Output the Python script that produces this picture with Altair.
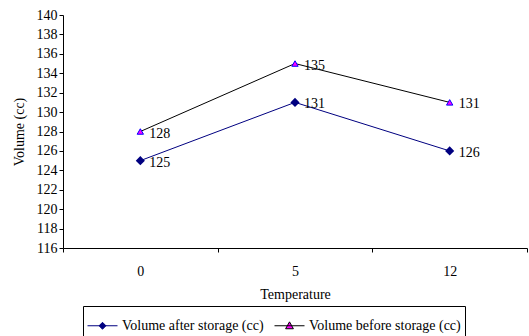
import altair as alt
import pandas as pd

temps = ["0", "5", "12"]
after = [125, 131, 126]
before = [128, 135, 131]
series_names = ["Volume after storage (cc)", "Volume before storage (cc)"]
y_ticks = list(range(116, 141, 2))

rows = []
for t, a, b in zip(temps, after, before):
    rows.append({"temp": t, "series": series_names[0], "value": a})
    rows.append({"temp": t, "series": series_names[1], "value": b})
df = pd.DataFrame(rows)

FONT = "Liberation Serif"
FS = 14

x_enc = alt.X("temp:O", sort=temps, title="Temperature",
              scale=alt.Scale(paddingInner=0, paddingOuter=0),
              axis=alt.Axis(tickBand="extent", labelAngle=0, labelPadding=12,
                            titlePadding=9, tickSize=4))
y_enc = alt.Y("value:Q", title="Volume (cc)",
              scale=alt.Scale(domain=[116, 140], nice=False, zero=False),
              axis=alt.Axis(values=y_ticks, tickSize=4, labelPadding=2,
                            titlePadding=10, grid=False))

base = alt.Chart(df).encode(x=x_enc, y=y_enc)

after_df = base.transform_filter(alt.datum.series == series_names[0])
before_df = base.transform_filter(alt.datum.series == series_names[1])

line_after = after_df.mark_line(color="#000080", strokeWidth=1)
line_before = before_df.mark_line(color="#000000", strokeWidth=1)
pts_after = after_df.mark_point(shape="diamond", filled=True, fill="#000080",
                                stroke="#000080", size=40, opacity=1)
pts_before = before_df.mark_point(shape="triangle-up", filled=True, fill="#ff00ff",
                                  stroke="#0000ff", strokeWidth=1, size=40, opacity=1)
labels = base.mark_text(align="left", baseline="middle", dx=9, dy=2,
                        font=FONT, fontSize=FS, color="black").encode(text="value:Q")

legend_paths = [
    "M-1,0H1M0,-0.23L0.23,0L0,0.23L-0.23,0Z",
    "M-1,0H1M0,-0.26L0.26,0.2L-0.26,0.2Z",
]
legend_layer = base.mark_point(opacity=0, filled=True).encode(
    shape=alt.Shape("series:N", scale=alt.Scale(domain=series_names, range=legend_paths),
                    legend=alt.Legend(orient="none", legendX=20, legendY=291,
                                      direction="horizontal", columns=2, title=None,
                                      strokeColor="black", fillColor="white",
                                      padding=4, columnPadding=8, labelOffset=4,
                                      symbolSize=900, symbolOpacity=1,
                                      symbolStrokeWidth=1,
                                      labelFont=FONT, labelFontSize=FS,
                                      labelColor="black", cornerRadius=0)),
    fill=alt.Fill("series:N", scale=alt.Scale(domain=series_names,
                                              range=["#000080", "#ff00ff"])),
    stroke=alt.Stroke("series:N", scale=alt.Scale(domain=series_names,
                                                  range=["#000080", "#000000"])),
)

chart = alt.layer(legend_layer, line_before, line_after, pts_before, pts_after, labels).properties(
    width=464, height=233,
    autosize=alt.AutoSizeParams(type="none"),
    padding={"left": 63, "top": 15, "right": 2, "bottom": 88},
    background="white",
).configure_view(stroke=None).configure_axis(
    labelFont=FONT, titleFont=FONT, labelFontSize=FS, titleFontSize=FS,
    titleFontWeight="normal", labelColor="black", titleColor="black",
    domainColor="black", tickColor="black", domainWidth=1, tickWidth=1,
)

chart.save("out.html", embed_options={"renderer": "svg", "actions": False})
